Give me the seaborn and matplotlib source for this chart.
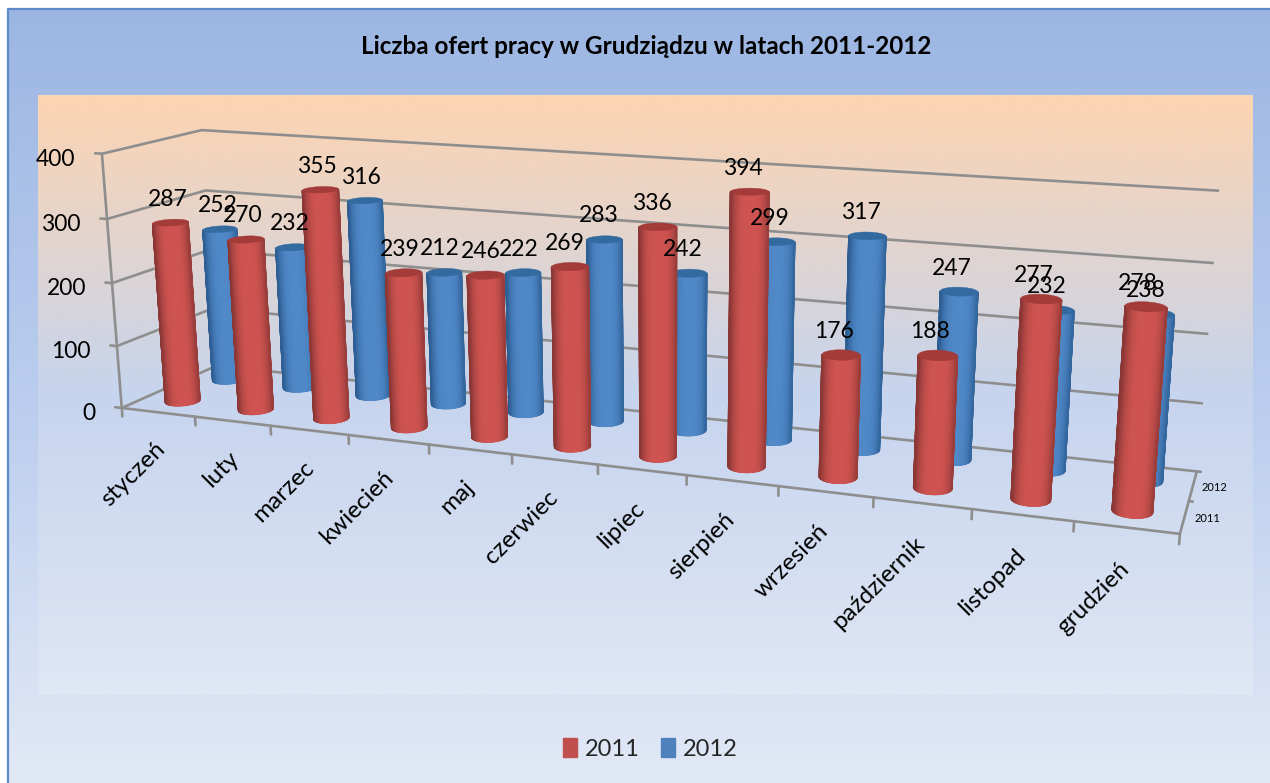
import numpy as np, pandas as pd
import matplotlib
matplotlib.use("Agg")
import matplotlib.pyplot as plt
import seaborn as sns
from matplotlib.collections import PolyCollection
from matplotlib.colors import LinearSegmentedColormap, to_rgb
from matplotlib.patches import Patch

months = ["styczeń","luty","marzec","kwiecień","maj","czerwiec","lipiec","sierpień",
          "wrzesień","październik","listopad","grudzień"]
values_2011 = [287,270,355,239,246,269,336,394,176,188,277,278]
values_2012 = [252,232,316,212,222,283,242,299,317,247,232,238]
years = ["2011","2012"]
z_ticks = [0,100,200,300,400]
title = "Liczba ofert pracy w Grudziądzu w latach 2011-2012"

sns.set_theme(style="white")
plt.rcParams['font.family'] = ['Lato','DejaVu Sans']
palette = sns.color_palette(["#C0504D","#4F81BD"])

# camera calibration: (month axis, depth axis, value) -> reference pixel
front_px = [123,196,271,349,429,512,598,687,778,873,972,1074,1180]
calib = [((i,0,0),(x,407+(x-123)*0.1211)) for i,x in enumerate(front_px)]
calib += [((0,0,400),(102,155)),((0,0,300),(106,218)),((0,0,200),(111,283)),((0,0,100),(116,347))]
calib += [((0,1,400),(202,130)),((0,1,300),(207,190)),((0,1,0),(215,368))]
calib += [((12,1,400),(1218,191)),((12,1,300),(1213,263)),((12,1,200),(1207,333)),
          ((12,1,100),(1202,403)),((12,1,0),(1197,470))]
A=[];b=[]
for (u,v,z),(x,y) in calib:
    z=z/100
    A.append([u,v,z,1,0,0,0,0,-x*u,-x*v,-x*z]);b.append(x)
    A.append([0,0,0,0,u,v,z,1,-y*u,-y*v,-y*z]);b.append(y)
p=np.linalg.lstsq(np.array(A,float),np.array(b,float),rcond=None)[0]
P=np.append(p,1).reshape(3,4)
def proj(u,v,z):
    u,v,z=np.broadcast_arrays(np.asarray(u,float),np.asarray(v,float),np.asarray(z,float)/100)
    w=P[2,0]*u+P[2,1]*v+P[2,2]*z+P[2,3]
    return (P[0,0]*u+P[0,1]*v+P[0,2]*z+P[0,3])/w,(P[1,0]*u+P[1,1]*v+P[1,2]*z+P[1,3])/w

fig=plt.figure(figsize=(12.7,7.83),dpi=100)
ax=fig.add_axes([0,0,1,1])
ax.set_xlim(0,1270);ax.set_ylim(783,0);ax.axis("off")

def vgrad(stops,box,z):
    pos=[s[0] for s in stops];cols=[s[1] for s in stops]
    cm=LinearSegmentedColormap.from_list("g",list(zip(pos,cols)))
    ax.imshow(np.linspace(0,1,256)[:,None],cmap=cm,extent=box,aspect="auto",zorder=z,vmin=0,vmax=1)
vgrad([(0,"#9cb6e3"),(.5,"#bacdee"),(1,"#e2e9f6")],(8,1270,783,9),0)
vgrad([(0,"#fdd4b1"),(.5,"#c6d4ee"),(1,"#e0e7f5")],(38,1253,695,95),1)
ax.set_xlim(0,1270);ax.set_ylim(783,0)
ax.plot([8,8,1270],[783,9,9],color="#5f8ac8",lw=1.6,zorder=2)

# axis frame through seaborn
rows=[]
def seg(name,u,v,z):
    x,y=proj(u,v,z)
    for a,c in zip(np.atleast_1d(x),np.atleast_1d(y)):
        rows.append(dict(line=name,sx=a,sy=c))
for z in z_ticks:
    seg(f"w{z}",[0,0,12],[0,1,1],[z,z,z])
    seg(f"t{z}",[-0.09,0],[0,0],[z,z])
seg("axis",[0,0],[0,0],[0,400])
seg("front",[0,12,12],[0,0,1],[0,0,0])
for i in range(13):
    seg(f"m{i}",[i,i],[0,0],[0,-14])
for v in (.5,1):
    seg(f"d{v}",[12,12.04],[v,v],[0,0])
grid=pd.DataFrame(rows)
sns.lineplot(data=grid,x="sx",y="sy",units="line",estimator=None,sort=False,color="#8e8e8e",
             lw=1.9,ax=ax,legend=False,zorder=3)
ax.set_xlabel("");ax.set_ylabel("")

def mix(c1,c2,t):
    return tuple(np.array(to_rgb(c1))*(1-t)+np.array(to_rgb(c2))*t)
styles={"2011":("#8a3735","#cf5451","#a33b39"),"2012":("#2d5d92","#5088c8","#336a9f")}
RU,RV=0.195,0.105
theta=np.linspace(0,2*np.pi,121)
def cylinder(i,v0,val,yr,z):
    edge,mid,top=styles[yr]
    u=i+.5+RU*np.cos(theta);v=v0+RV*np.sin(theta)
    xb,yb=proj(u,v,0);xt,yt=proj(u,v,val)
    i0=int(np.argmin(xb));i1=int(np.argmax(xb))
    # visible arc: the half of the ring that has the larger screen y
    n=len(theta)-1
    arc=[(i0+k)%n for k in range(((i1-i0)%n)+1)]
    if yb[arc].mean()<yb.mean():
        arc=[(i1+k)%n for k in range(((i0-i1)%n)+1)][::-1]
    xc=.5*(xb[i0]+xb[i1]);ha=.5*(xb[i1]-xb[i0])
    outline=list(zip(xb[arc],yb[arc]))+list(zip(xt[arc[::-1]],yt[arc[::-1]]))
    ax.fill(*zip(*outline),color=edge,lw=.4,zorder=z)
    quads=[];cols=[]
    for a,c in zip(arc[:-1],arc[1:]):
        quads.append([(xb[a],yb[a]),(xb[c],yb[c]),(xt[c],yt[c]),(xt[a],yt[a])])
        s=(.5*(xb[a]+xb[c])-xc)/ha
        cols.append(mix(edge,mid,np.clip(1-abs(s-.08)**3.2,0,1)))
    ax.add_collection(PolyCollection(quads,facecolors=cols,edgecolors=cols,linewidths=.9,
                                     antialiaseds=True,zorder=z+.05))
    ax.fill(xt,yt,color=top,lw=.3,zorder=z+.1)
for i,val in enumerate(values_2012): cylinder(i,.75,val,"2012",4)
for i,val in enumerate(values_2011): cylinder(i,.25,val,"2011",5)

lab=dict(fontsize=16.5,color="black",zorder=8)
for i,val in enumerate(values_2012):
    x,y=proj(i+.5,.75,val);ax.text(x-2.5-.55*i,y-23.5,str(val),ha="center",va="center",**lab)
for i,val in enumerate(values_2011):
    x,y=proj(i+.5,.25,val);ax.text(x-2.5-.55*i,y-23.5,str(val),ha="center",va="center",**lab)
for z in z_ticks:
    x,y=proj(-.22,0,z);ax.text(x-10,y+7,str(z),ha="right",va="center",**lab)
for i,m in enumerate(months):
    x,y=proj(i+.62,-.22,0)
    ax.text(x+10-2.3*i,y+14,m,rotation=45,ha="right",va="top",rotation_mode="anchor",fontsize=17.5,color="black",zorder=8)
for yr,v in zip(years,(.25,.75)):
    x,y=proj(12.12,v,0);ax.text(x-3,y,yr,ha="left",va="center",fontsize=8,color="black",zorder=8)
ax.text(646,47,title,ha="center",va="center",fontsize=17.5,fontweight="bold",color="black",zorder=8)
ax.legend(handles=[Patch(color=palette[0],label=years[0]),Patch(color=palette[1],label=years[1])],
          loc="center",bbox_to_anchor=(650/1270,1-749/783),ncol=2,frameon=False,fontsize=17,
          handlelength=.62,handleheight=.85,handletextpad=.3,columnspacing=.9)
fig.savefig("out.png",dpi=100)
